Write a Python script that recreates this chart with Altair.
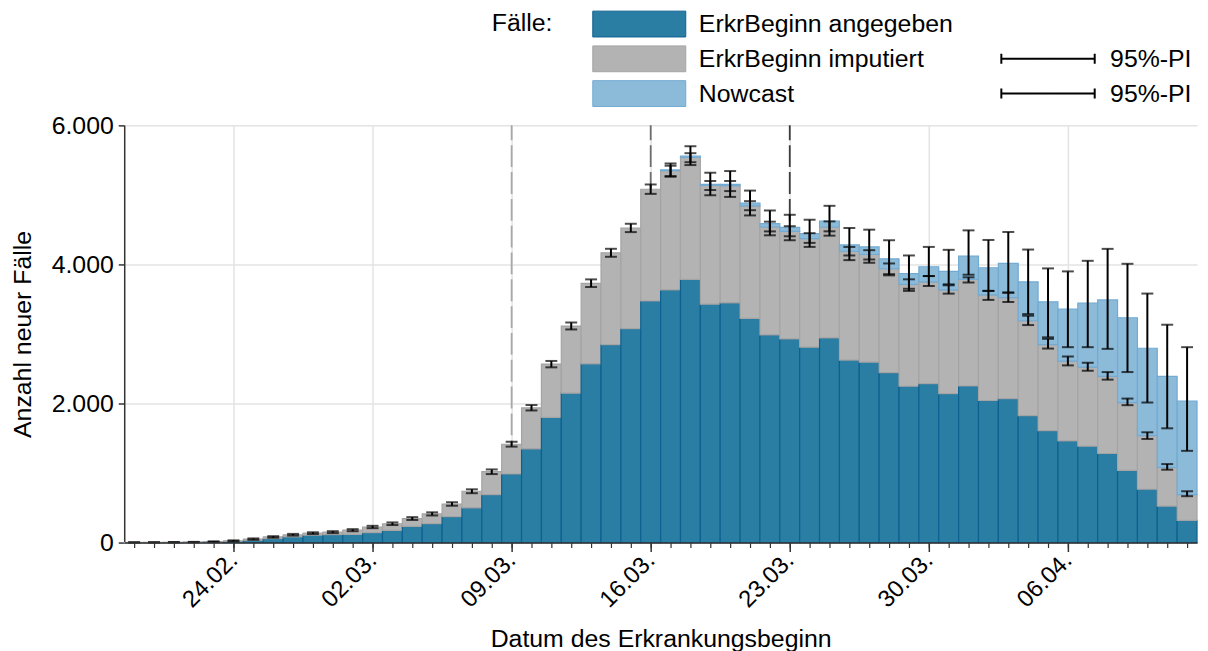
import altair as alt
import pandas as pd

# ---------------- data ----------------
tage = pd.date_range("2020-02-19", "2020-04-12", freq="D")  # 54 Erkrankungstage

angegeben = [0, 0, 0, 3, 8, 18, 33, 57, 81, 105,
             114, 119, 143, 176, 233, 272, 373, 500, 690, 986,
             1348, 1800, 2148, 2571, 2848, 3076, 3474, 3633, 3786, 3429,
             3448, 3224, 2986, 2929, 2810, 2943, 2624, 2595, 2443, 2248,
             2286, 2143, 2252, 2043, 2071, 1824, 1610, 1462, 1386, 1281,
             1038, 767, 524, 319]

mit_imputiert = [2, 3, 4, 6, 12, 24, 50, 81, 112, 135,
                 150, 178, 224, 271, 345, 412, 555, 738, 1019, 1414,
                 1938, 2567, 3114, 3729, 4167, 4524, 5081, 5348, 5538, 5138,
                 5133, 4843, 4538, 4476, 4371, 4538, 4190, 4143, 3938, 3714,
                 3748, 3633, 3786, 3562, 3524, 3190, 2848, 2610, 2524, 2390,
                 2014, 1538, 1081, 690]

mit_nowcast = [2, 3, 4, 6, 12, 24, 50, 81, 112, 135,
               150, 178, 224, 271, 345, 412, 555, 738, 1019, 1414,
               1938, 2567, 3114, 3729, 4167, 4524, 5081, 5360, 5557, 5152,
               5152, 4881, 4586, 4533, 4443, 4624, 4281, 4252, 4081, 3867,
               3967, 3900, 4119, 3952, 4014, 3748, 3462, 3357, 3443, 3490,
               3233, 2795, 2390, 2033]

pi_imp_unten = [0, 0, 1, 2, 6, 16, 40, 70, 100, 122,
                136, 163, 207, 252, 325, 390, 530, 710, 985, 1380,
                1900, 2520, 3065, 3675, 4110, 4465, 5015, 5270, 5470, 5070,
                5055, 4780, 4475, 4405, 4310, 4476, 4129, 4071, 3860, 3650,
                3690, 3580, 3740, 3490, 3460, 3128, 2790, 2548, 2471, 2343,
                1976, 1490, 1048, 667]

pi_imp_oben = [5, 6, 8, 10, 18, 32, 60, 92, 125, 148,
               164, 193, 241, 290, 366, 435, 580, 766, 1052, 1450,
               1978, 2612, 3165, 3785, 4225, 4585, 5150, 5420, 5600, 5200,
               5200, 4910, 4615, 4550, 4450, 4619, 4252, 4205, 4014, 3786,
               3833, 3700, 3815, 3620, 3595, 3262, 2930, 2676, 2586, 2452,
               2071, 1586, 1129, 738]

pi_now_unten = [None, None, None, None, None, None, None, None, None, None,
                None, None, None, None, None, None, None, None, None, None,
                None, None, None, None, None, None, None, 5262, 5429, 4995,
                4971, 4705, 4419, 4348, 4252, 4414, 4062, 4024, 3843, 3619,
                3833, 3714, 3852, 3619, 3595, 3286, 2952, 2810, 2810, 2786,
                2452, 2014, 1643, 1319]

pi_now_oben = [None, None, None, None, None, None, None, None, None, None,
               None, None, None, None, None, None, None, None, None, None,
               None, None, None, None, None, None, None, 5452, 5700, 5319,
               5343, 5062, 4776, 4714, 4643, 4843, 4524, 4500, 4348, 4129,
               4252, 4210, 4490, 4352, 4467, 4214, 3943, 3900, 4052, 4224,
               4009, 3581, 3133, 2810]

wochen_ticks = ["2020-02-24", "2020-03-02", "2020-03-09", "2020-03-16",
                "2020-03-23", "2020-03-30", "2020-04-06"]
markierungen = ["2020-03-09", "2020-03-16", "2020-03-23"]
kategorien = ["ErkrBeginn angegeben", "ErkrBeginn imputiert", "Nowcast"]
pi_kategorien = ["leer", "imp", "now"]

# ---------------- tables ----------------
rows = []
for d, a, t, n in zip(tage, angegeben, mit_imputiert, mit_nowcast):
    rows.append(dict(datum=d, typ=kategorien[0], y0=0, y1=a))
    rows.append(dict(datum=d, typ=kategorien[1], y0=a, y1=t))
    if n > t:
        rows.append(dict(datum=d, typ=kategorien[2], y0=t, y1=n))
balken_df = pd.DataFrame(rows)
balken_df["start"] = balken_df["datum"] - pd.Timedelta(hours=12)
balken_df["ende"] = balken_df["datum"] + pd.Timedelta(hours=12)

err = []
for d, lo, hi in zip(tage, pi_imp_unten, pi_imp_oben):
    err.append(dict(datum=d, lo=lo, hi=hi, pi="imp"))
for d, lo, hi in zip(tage, pi_now_unten, pi_now_oben):
    if lo is not None:
        err.append(dict(datum=d, lo=lo, hi=hi, pi="now"))
err_df = pd.DataFrame(err)

# ---------------- styling ----------------
FONT = "Liberation Sans"
fuell = ["#2a7ea3", "#b3b3b3", "#8cbbda"]
rand = ["#0d6190", "#a4a4a4", "#72aad2"]
linienfarben = ["#a8a8a8", "#6e6e6e", "#3c3c3c"]


def dt(ts):
    ts = pd.Timestamp(ts)
    return alt.DateTime(year=ts.year, month=ts.month, date=ts.day)


x_scale = alt.Scale(domain=[alt.DateTime(year=2020, month=2, date=18, hours=12),
                            alt.DateTime(year=2020, month=4, date=12, hours=12)])
y_scale = alt.Scale(domain=[0, 6000], nice=False)

minor_axis = alt.Axis(values=[dt(t) for t in tage], labels=False, grid=False,
                      domain=True, domainColor="#333333", domainWidth=1.5,
                      tickColor="#333333", tickWidth=1.2, tickSize=5,
                      title=None, orient="bottom", zindex=1)
major_axis = alt.Axis(values=[dt(w) for w in wochen_ticks], format="%d.%m.",
                      labelAngle=-45, labelAlign="right", labelBaseline="middle",
                      labelFontSize=24, labelColor="black", labelPadding=5,
                      tickSize=9, tickColor="#333333", tickWidth=1.5,
                      grid=True, gridColor="#e3e3e3", gridWidth=1.5, domain=False,
                      title="Datum des Erkrankungsbeginn", titleFontSize=25,
                      titleFontWeight="normal", titleColor="black", titlePadding=15,
                      orient="bottom")
y_axis = alt.Axis(values=[0, 2000, 4000, 6000],
                  labelExpr="replace(format(datum.value, ','), ',', '.')",
                  labelFontSize=25, labelColor="black", labelPadding=5,
                  tickSize=6, tickColor="#333333", tickWidth=1.5,
                  domainColor="#333333", domainWidth=1.5,
                  grid=True, gridColor="#e3e3e3", gridWidth=1.5,
                  title="Anzahl neuer Fälle", titleFontSize=25,
                  titleFontWeight="normal", titleColor="black", titlePadding=16)

farb_legende = alt.Legend(title="Fälle:", orient="none", legendX=370, legendY=-115.5,
                          titleOrient="left", titleAnchor="start", titleBaseline="top",
                          titleFontSize=25, titleFontWeight="normal", titleColor="black",
                          titlePadding=73, padding=0,
                          symbolType="M-3.6,-1H3.6V1H-3.6Z", symbolSize=676,
                          symbolStrokeWidth=1, symbolOpacity=1,
                          labelFontSize=25, labelColor="black", labelOffset=46.5,
                          rowPadding=4, labelLimit=400, direction="vertical")
pi_legende = alt.Legend(title=None, orient="none", legendX=916.5, legendY=-115.5,
                        padding=0,
                        symbolType="M-3.76,0H3.76M-3.76,-0.4V0.4M3.76,-0.4V0.4",
                        symbolSize=625, symbolStrokeWidth=2, symbolStrokeColor="black",
                        symbolFillColor="transparent",
                        labelFontSize=25, labelColor="black", labelOffset=49,
                        rowPadding=8, labelLimit=400, direction="vertical",
                        labelExpr="datum.value == 'leer' ? '' : '95%-PI'")

# ---------------- layers ----------------
linien = []
for i, (m, c) in enumerate(zip(markierungen, linienfarben)):
    linien.append(
        alt.Chart(pd.DataFrame({"datum": [pd.Timestamp(m)]}))
        .mark_rule(color=c, strokeDash=[22, 5], strokeWidth=1.8)
        .encode(
            x=alt.X("datum:T", scale=x_scale, axis=minor_axis if i == 0 else None),
            y=alt.YDatum(0, scale=y_scale, axis=y_axis),
            y2=alt.Y2Datum(6000),
        )
    )

balken = alt.Chart(balken_df).mark_bar(strokeWidth=1.2).encode(
    x=alt.X("start:T", scale=x_scale, axis=major_axis),
    x2="ende:T",
    y=alt.Y("y0:Q", scale=y_scale, axis=y_axis),
    y2="y1:Q",
    color=alt.Color("typ:N", scale=alt.Scale(domain=kategorien, range=fuell), legend=farb_legende),
    stroke=alt.Stroke("typ:N", scale=alt.Scale(domain=kategorien, range=rand), legend=farb_legende),
)

fehler = alt.Chart(err_df).mark_rule(color="black", strokeWidth=2).encode(
    x=alt.X("datum:T", scale=x_scale, axis=None),
    y=alt.Y("lo:Q", scale=y_scale, axis=y_axis),
    y2="hi:Q",
    strokeDash=alt.StrokeDash("pi:N",
                              scale=alt.Scale(domain=pi_kategorien, range=[[0, 1000], [1, 0], [1, 0]]),
                              legend=pi_legende),
)
kappen_unten = alt.Chart(err_df).mark_tick(color="black", orient="horizontal", size=12, thickness=2).encode(
    x=alt.X("datum:T", scale=x_scale, axis=None),
    y=alt.Y("lo:Q", scale=y_scale, axis=y_axis),
)
kappen_oben = alt.Chart(err_df).mark_tick(color="black", orient="horizontal", size=12, thickness=2).encode(
    x=alt.X("datum:T", scale=x_scale, axis=None),
    y=alt.Y("hi:Q", scale=y_scale, axis=y_axis),
)

chart = (
    alt.layer(*linien, balken, fehler, kappen_unten, kappen_oben)
    .resolve_axis(x="independent")
    .properties(width=1080, height=420,
                autosize=alt.AutoSizeParams(type="none"),
                padding={"left": 117, "top": 116, "right": 3, "bottom": 107})
    .configure(font=FONT)
    .configure_view(stroke=None)
)

chart.save("out.html", embed_options={"renderer": "svg", "actions": False})
